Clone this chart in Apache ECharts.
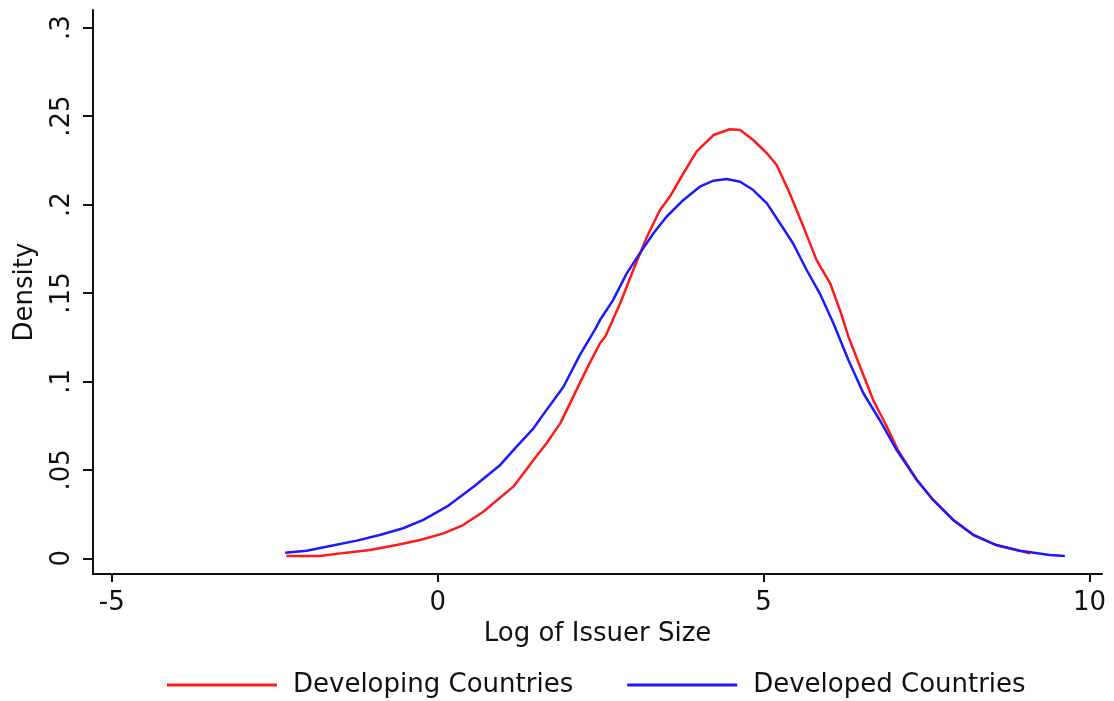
<!DOCTYPE html>
<html>
<head>
<meta charset="utf-8">
<script src="https://cdn.jsdelivr.net/npm/echarts@6/dist/echarts.min.js"></script>
<style>
html,body{margin:0;padding:0;background:#fff;}
#chart{width:1114px;height:701px;}
</style>
</head>
<body>
<div id="chart"></div>
<script>
// Developing Countries (red) kernel density: x and y values
const developingX = [-2.32,-1.81,-1.40,-1.04,-0.63,-0.27,0.09,0.39,0.70,1.16,1.47,1.67,1.88,2.08,2.29,2.49,2.57,2.80,3.00,3.21,3.41,3.56,3.77,3.97,4.23,4.48,4.64,4.84,5.05,5.20,5.40,5.61,5.81,6.02,6.17,6.30,6.48,6.68,6.89,7.06,7.35,7.60,7.91,8.22,8.57,8.93,9.09];
const developingY = [0.0013,0.0013,0.0032,0.0047,0.0075,0.0103,0.0141,0.0188,0.0263,0.0405,0.0556,0.0650,0.0763,0.0914,0.1074,0.1216,0.1253,0.1442,0.1630,0.1818,0.1969,0.2044,0.2177,0.2299,0.2393,0.2426,0.2422,0.2365,0.2290,0.2224,0.2064,0.1875,0.1687,0.1555,0.1404,0.1253,0.1083,0.0895,0.0744,0.0612,0.0443,0.0330,0.0215,0.0130,0.0074,0.0042,0.0028];

// Developed Countries (blue)
const developedX = [-2.34,-2.01,-1.65,-1.24,-0.89,-0.53,-0.22,0.14,0.55,0.96,1.21,1.47,1.67,1.93,2.18,2.41,2.49,2.69,2.90,3.10,3.31,3.51,3.77,4.02,4.23,4.43,4.64,4.84,5.05,5.25,5.45,5.66,5.86,6.07,6.30,6.53,6.78,7.04,7.35,7.60,7.91,8.22,8.57,8.93,9.39,9.62];
const developedY = [0.0032,0.0043,0.0070,0.0100,0.0132,0.0170,0.0217,0.0292,0.0405,0.0528,0.0631,0.0735,0.0839,0.0970,0.1149,0.1291,0.1347,0.1460,0.1611,0.1724,0.1838,0.1931,0.2026,0.2101,0.2135,0.2145,0.2129,0.2082,0.2007,0.1894,0.1781,0.1630,0.1498,0.1329,0.1121,0.0933,0.0782,0.0612,0.0443,0.0330,0.0217,0.0132,0.0075,0.0043,0.0019,0.0013];

const xTicks = [-5, 0, 5, 10];
const yTicks = [0, 0.05, 0.1, 0.15, 0.2, 0.25, 0.3];
const seriesNames = ['Developing Countries', 'Developed Countries'];
const xTitle = 'Log of Issuer Size';
const yTitle = 'Density';

function pairs(xs, ys){ return xs.map((x,i)=>[x, ys[i]]); }
function fmtY(v){ if (Math.abs(v) < 1e-9) return '0'; return String(+v.toFixed(2)).replace(/^0/, ''); }

const FONT = 'DejaVu Sans';
const FS = 26;
const chart = echarts.init(document.getElementById('chart'), null, {renderer:'canvas'});
chart.setOption({
  animation: false,
  backgroundColor: '#ffffff',
  textStyle: {fontFamily: FONT},
  grid: {left: 93, right: 12, top: 10, bottom: 127, outerBoundsMode: 'none', containLabel: false},
  legend: {
    data: seriesNames,
    left: 167, top: 672,
    padding: 0,
    itemWidth: 110, itemHeight: 26, itemGap: 54,
    icon: 'path://M0,0 L110,0 L110,3 L0,3 Z',
    textStyle: {fontFamily: FONT, fontSize: FS, color: '#111', padding: [0,0,0,11]}
  },
  xAxis: {
    type: 'value', min: -5.287, max: 10.19,
    name: xTitle, nameLocation: 'middle', nameGap: 40,
    nameTextStyle: {fontFamily: FONT, fontSize: FS, color: '#111'},
    splitLine: {show: false},
    axisLine: {show: true, onZero: false, lineStyle: {color: '#111', width: 2}},
    axisTick: {show: true, inside: false, length: 8, customValues: xTicks, lineStyle: {color: '#111', width: 2}},
    axisLabel: {customValues: xTicks, margin: 16, fontFamily: FONT, fontSize: FS, color: '#111'}
  },
  yAxis: {
    type: 'value', min: -0.00888, max: 0.31,
    name: yTitle, nameLocation: 'middle', nameGap: 55,
    nameTextStyle: {fontFamily: FONT, fontSize: FS, color: '#111'},
    splitLine: {show: false},
    axisLine: {show: true, onZero: false, lineStyle: {color: '#111', width: 2}},
    axisTick: {show: true, inside: false, length: 10, customValues: yTicks, lineStyle: {color: '#111', width: 2}},
    axisLabel: {customValues: yTicks, rotate: 90, margin: 18, fontFamily: FONT, fontSize: FS, color: '#111', formatter: fmtY}
  },
  series: [
    {name: seriesNames[0], type: 'line', data: pairs(developingX, developingY), smooth: false, symbol: 'none', showSymbol: false,
     lineStyle: {color: '#ff1a1a', width: 2.5}, itemStyle: {color: '#ff1a1a'}, z: 2},
    {name: seriesNames[1], type: 'line', data: pairs(developedX, developedY), smooth: false, symbol: 'none', showSymbol: false,
     lineStyle: {color: '#1a1aff', width: 2.5}, itemStyle: {color: '#1a1aff'}, z: 3}
  ]
});
</script>
</body>
</html>
